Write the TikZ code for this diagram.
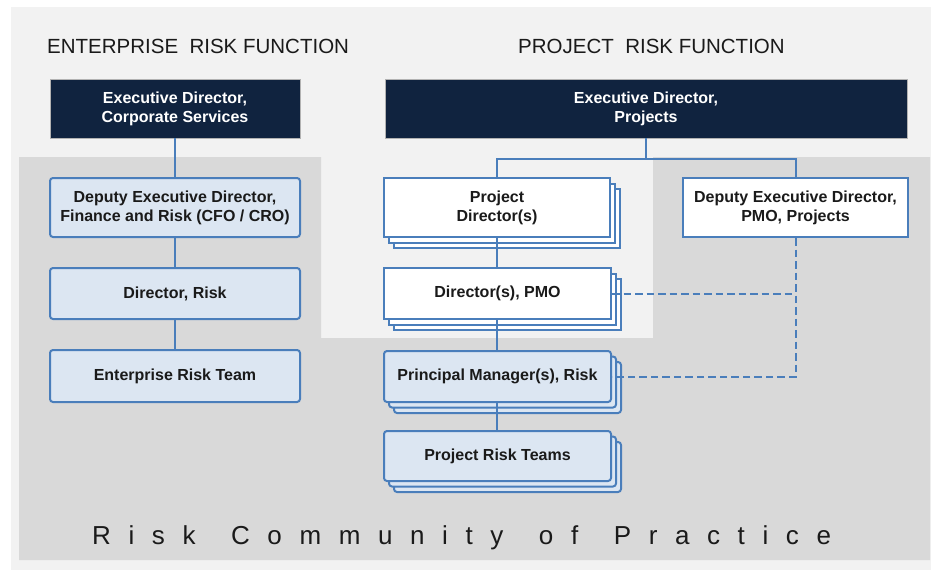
\documentclass[tikz,border=0pt]{standalone}
\usepackage{fontspec}
\setmainfont{Liberation Sans}
\usetikzlibrary{shadows}
\definecolor{panel}{HTML}{F2F2F2}
\definecolor{darkreg}{HTML}{D9D9D9}
\definecolor{navy}{HTML}{10233F}
\definecolor{lineblue}{HTML}{4A7EBB}
\definecolor{lightblue}{HTML}{DCE6F2}
\definecolor{txt}{HTML}{1A1A1A}
\makeatletter
\newcommand\spreadword[1]{\@tfor\sp@c:=#1\do{\sp@c\kern17.6pt}}
\makeatother
\tikzset{
  boxfont/.style={font=\bfseries\fontsize{16}{19}\selectfont},
  execbox/.style={boxfont, fill=navy, draw=gray!60, line width=0.8pt, text=white,
    align=center, inner sep=0pt, minimum height=59pt},
  bluebox/.style={boxfont, fill=lightblue, draw=lineblue, line width=2pt,
    rounded corners=3pt, align=center, inner sep=0pt, text=txt},
  whitebox/.style={boxfont, fill=white, draw=lineblue, line width=2pt,
    align=center, inner sep=0pt, text=txt},
  stackwhite/.style={double copy shadow={shadow xshift=5pt, shadow yshift=-5.5pt,
    fill=white, draw=lineblue, line width=2pt}},
  stackblue/.style={double copy shadow={shadow xshift=5pt, shadow yshift=-5.5pt,
    fill=lightblue, draw=lineblue, line width=2pt, rounded corners=3pt}},
  conn/.style={draw=lineblue, line width=2pt},
  dconn/.style={draw=lineblue, line width=2pt, dash pattern=on 7.5pt off 4pt},
  header/.style={font=\fontsize{20.5}{24}\selectfont, text=txt, inner sep=0pt, anchor=base west},
}
\begin{document}
\begin{tikzpicture}[x=1pt,y=-1pt]
\useasboundingbox (0,0) rectangle (931,570);
\fill[white] (0,0) rectangle (931,570);
\fill[panel] (11,7) rectangle (931,570);
\fill[darkreg] (19,157) -- (321,157) -- (321,338) -- (653,338) -- (653,157)
  -- (930,157) -- (930,560) -- (19,560) -- cycle;

% headers
\node[header] (hL) at (47,53) {ENTERPRISE\ \ RISK FUNCTION};
\node[header] (hR) at (518,53) {PROJECT\ \ RISK FUNCTION};

% left column
\node[execbox, minimum width=250pt] (edcs) at (175,108.5) {Executive Director,\\Corporate Services};
\node[bluebox, minimum width=250pt, minimum height=59pt] (dedf) at (175,207.5) {Deputy Executive Director,\\Finance and Risk (CFO / CRO)};
\node[bluebox, minimum width=250pt, minimum height=51pt] (dirr) at (175,293.5) {Director, Risk};
\node[bluebox, minimum width=250pt, minimum height=52pt] (ert) at (175,376) {Enterprise Risk Team};

% right column
\node[execbox, minimum width=522pt] (edp) at (646,108.5) {Executive Director,\\Projects};
\node[whitebox, stackwhite, minimum width=226pt, minimum height=59pt] (pd) at (497,207.5) {Project\\Director(s)};
\node[whitebox, stackwhite, minimum width=227pt, minimum height=51pt] (pmo) at (497.5,293.5) {Director(s), PMO};
\node[bluebox, stackblue, minimum width=227pt, minimum height=51pt] (pmr) at (497.5,376.5) {Principal Manager(s), Risk};
\node[bluebox, stackblue, minimum width=227pt, minimum height=50pt] (prt) at (497.5,456) {Project Risk Teams};
\node[whitebox, minimum width=225pt, minimum height=59pt] (dedp) at (795.5,207.5) {Deputy Executive Director,\\PMO, Projects};

\coordinate (jn) at (646,159);

% connectors
\draw[conn] (edcs.south) -- (dedf.north);
\draw[conn] (dedf.south) -- (dirr.north);
\draw[conn] (dirr.south) -- (ert.north);
\draw[conn] (edp.south) -- (jn);
\draw[conn] (pd.north -| 497,0) |- (jn) -| (dedp.north);
\draw[conn] (pd.south -| 497,0) -- (pmo.north -| 497,0);
\draw[conn] (pmo.south -| 497,0) -- (pmr.north -| 497,0);
\draw[conn] (pmr.south -| 497,0) -- (prt.north -| 497,0);
\draw[dconn] (dedp.south) |- (pmr.east);
\draw[dconn] (pmo.east) -- (pmo.east -| dedp.south);

% footer
\node[font=\fontsize{26}{30}\selectfont, text=txt, inner sep=0pt, anchor=base west] (rcp) at (92,544)
  {\spreadword{Risk}\hspace{18pt}\spreadword{Community}\hspace{18pt}\spreadword{of}\hspace{18pt}\spreadword{Practice}};
\end{tikzpicture}
\end{document}
